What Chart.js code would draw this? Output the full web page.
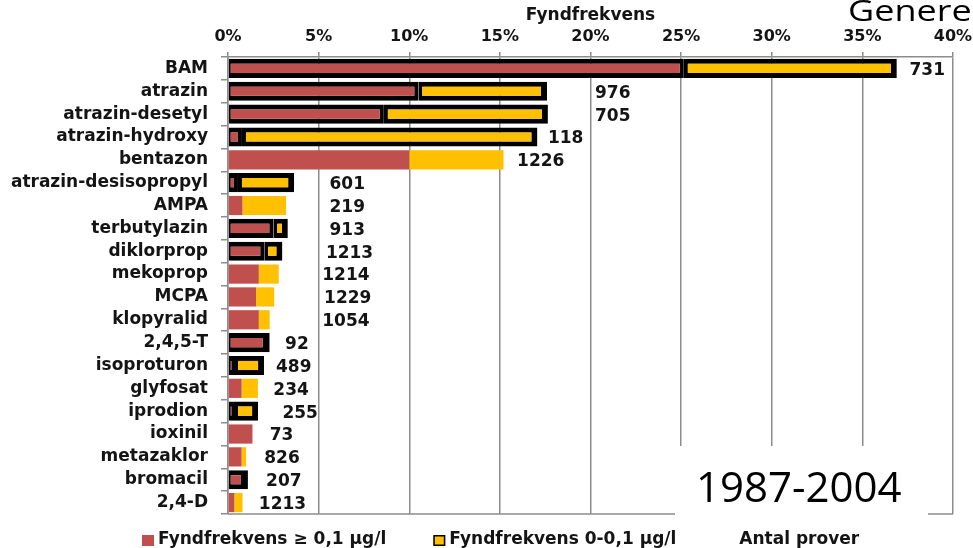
<!DOCTYPE html>
<html>
<head>
<meta charset="utf-8">
<script src="https://cdn.jsdelivr.net/npm/chart.js@4.4.0/dist/chart.umd.min.js"></script>
<style>
  html, body { margin: 0; padding: 0; background: #fff; }
  #wrap { width: 973px; height: 548px; }
</style>
</head>
<body>
<div id="wrap"><canvas id="grafico"></canvas></div>
<script>
const amnen = ['BAM', 'atrazin', 'atrazin-desetyl', 'atrazin-hydroxy', 'bentazon',
  'atrazin-desisopropyl', 'AMPA', 'terbutylazin', 'diklorprop', 'mekoprop', 'MCPA',
  'klopyralid', '2,4,5-T', 'isoproturon', 'glyfosat', 'iprodion', 'ioxinil',
  'metazaklor', 'bromacil', '2,4-D'];

// fyndfrekvens i procent
const overGrans = [25.15, 10.5, 8.6, 0.77, 10.0, 0.55, 0.8, 2.5, 2.0, 1.7, 1.55,
  1.7, 2.3, 0.33, 0.75, 0.33, 1.35, 0.75, 1.1, 0.35];
const underGrans = [11.75, 7.1, 9.05, 16.3, 5.2, 3.1, 2.4, 0.8, 1.0, 1.1, 1.0,
  0.6, 0, 1.66, 0.9, 1.33, 0, 0.25, 0, 0.45];

const antalProver = [731, 976, 705, 118, 1226, 601, 219, 913, 1213, 1214, 1229,
  1054, 92, 489, 234, 255, 73, 826, 207, 1213];
// var etiketten med antal prover står (i % på axeln)
const antalLage = [37.6, 20.25, 20.25, 17.65, 15.95, 5.6, 5.6, 5.6, 5.4, 5.2, 5.3,
  5.2, 3.15, 2.65, 2.5, 3.0, 2.3, 2.0, 2.1, 1.7];

// rader med svart ram
const markerad = [1, 1, 1, 1, 0, 1, 0, 1, 1, 0, 0, 0, 1, 1, 0, 1, 0, 0, 1, 0];

const rod = '#C0504D';
const gul = '#FFC000';
const grid = '#8c8c8c';
const text = '#141414';
const typsnitt = '"DejaVu Sans", sans-serif';

function kantRod(c) {
  const i = c.dataIndex;
  if (!markerad[i]) return 0;
  return { left: 2, top: 5, bottom: 5, right: underGrans[i] > 0 ? 4 : 7 };
}
function kantGul(c) {
  const i = c.dataIndex;
  if (!markerad[i] || !underGrans[i]) return 0;
  return { left: 4, top: 5, bottom: 5, right: 6 };
}

const ram = {
  id: 'ram',
  beforeDatasetsDraw(chart) {
    const { ctx, chartArea: a } = chart;
    ctx.save();
    ctx.strokeStyle = grid;
    ctx.lineWidth = 1.5;
    ctx.beginPath();
    ctx.moveTo(a.left, a.bottom);
    ctx.lineTo(a.right, a.bottom);
    ctx.stroke();
    ctx.restore();
  }
};

const etiketter = {
  id: 'etiketter',
  afterDatasetsDraw(chart) {
    const { ctx, scales: { x, y } } = chart;
    ctx.save();
    ctx.font = 'bold 17px ' + typsnitt;
    ctx.fillStyle = text;
    ctx.textBaseline = 'middle';
    antalProver.forEach((n, i) => {
      ctx.fillText(String(n), x.getPixelForValue(antalLage[i]), y.getPixelForValue(i) + 2);
    });
    ctx.restore();
  }
};

const extra = {
  id: 'extra',
  afterDraw(chart) {
    const ctx = chart.ctx;
    ctx.save();
    // förklaring
    ctx.font = 'bold 17px ' + typsnitt;
    ctx.textBaseline = 'middle';
    let lx = 142;
    const ly = 540;
    chart.data.datasets.forEach(ds => {
      if (ds.backgroundColor !== 'transparent') {
        ctx.fillStyle = ds.backgroundColor;
        ctx.fillRect(lx, ly - 5, 12, 11);
        if (ds.label.indexOf('0-0,1') >= 0) {
          ctx.strokeStyle = '#000';
          ctx.lineWidth = 1.5;
          ctx.strokeRect(lx + 0.75, ly - 4.25, 10.5, 9.5);
        }
      }
      ctx.fillStyle = text;
      ctx.fillText(ds.label, lx + 16, ly);
      lx += 16 + ctx.measureText(ds.label).width + 47;
    });

    // textruta 1987-2004
    ctx.fillStyle = '#fff';
    ctx.fillRect(675, 446, 253, 76);
    ctx.fillStyle = '#000';
    ctx.font = '42px "Open Sans", sans-serif';
    ctx.textBaseline = 'alphabetic';
    ctx.fillText('1987-2004', 696, 502);

    // rubrik uppe till höger
    ctx.translate(848, 21);
    ctx.scale(1.2, 1);
    ctx.font = '30px "Open Sans", sans-serif';
    ctx.fillText('Generellt', 0, 0);
    ctx.restore();
  }
};

new Chart(document.getElementById('grafico'), {
  type: 'bar',
  data: {
    labels: amnen,
    datasets: [
      {
        label: 'Fyndfrekvens ≥ 0,1 µg/l',
        data: overGrans,
        backgroundColor: rod,
        borderColor: '#000',
        borderWidth: kantRod,
        borderSkipped: false,
        inflateAmount: 0
      },
      {
        label: 'Fyndfrekvens 0-0,1 µg/l',
        data: underGrans,
        backgroundColor: gul,
        borderColor: '#000',
        borderWidth: kantGul,
        borderSkipped: false,
        inflateAmount: 0
      },
      {
        label: 'Antal prover',
        data: amnen.map(() => null),
        backgroundColor: 'transparent'
      }
    ]
  },
  options: {
    indexAxis: 'y',
    responsive: true,
    maintainAspectRatio: false,
    animation: false,
    barPercentage: 0.84,
    categoryPercentage: 1,
    layout: { padding: { top: 0, left: 0, right: 20, bottom: 34 } },
    plugins: {
      legend: { display: false },
      tooltip: { enabled: false }
    },
    scales: {
      x: {
        position: 'top',
        stacked: true,
        min: 0,
        max: 40,
        afterFit: s => { s.height = 57; s.paddingRight = 0; s.paddingLeft = 0; },
        ticks: {
          stepSize: 5,
          callback: v => v + '%',
          color: text,
          padding: 6,
          font: { family: typsnitt, size: 16, weight: 'bold' }
        },
        title: {
          display: true,
          text: 'Fyndfrekvens',
          color: text,
          padding: { top: 5, bottom: 0 },
          font: { family: typsnitt, size: 17, weight: 'bold' }
        },
        grid: { color: grid, lineWidth: 1.5, tickLength: 5 },
        border: { color: grid, width: 1.5 }
      },
      y: {
        stacked: true,
        afterFit: s => { s.width = 228; },
        ticks: {
          color: text,
          padding: 13,
          autoSkip: false,
          font: { family: typsnitt, size: 17, weight: 'bold' }
        },
        grid: { drawOnChartArea: false, color: grid, lineWidth: 1.5, tickLength: 7 },
        border: { color: grid, width: 1.5 }
      }
    }
  },
  plugins: [ram, etiketter, extra]
});
</script>
</body>
</html>
